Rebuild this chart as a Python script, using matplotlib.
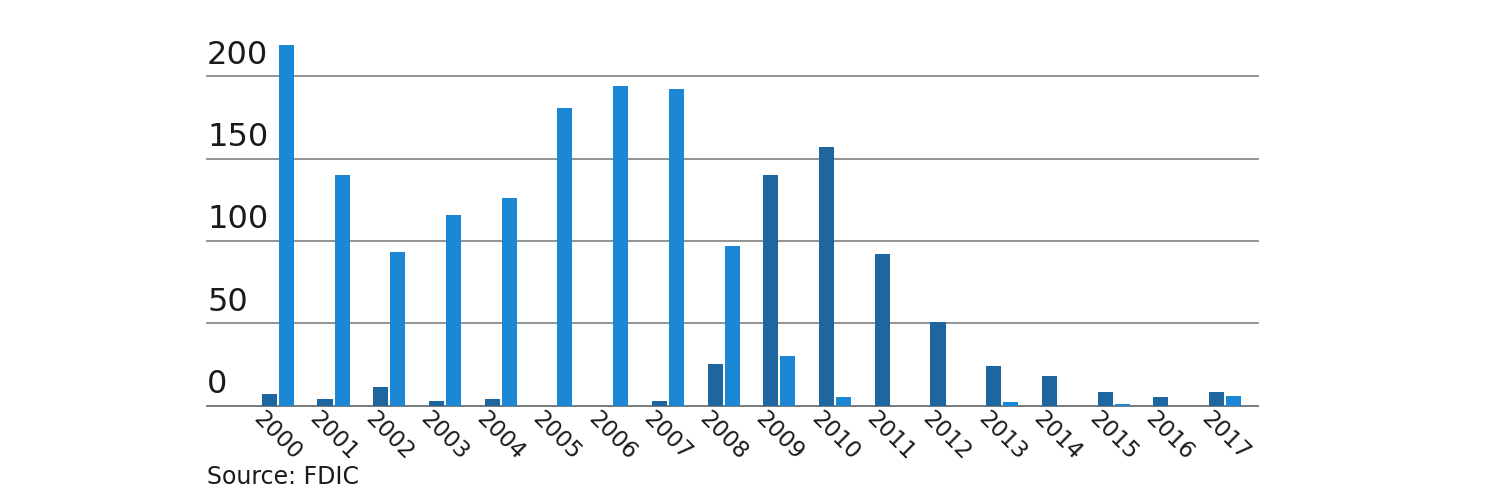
import matplotlib
matplotlib.use("Agg")
import matplotlib.pyplot as plt
import numpy as np

years = [str(y) for y in range(2000, 2018)]
failures = [7, 4, 11, 3, 4, 0, 0, 3, 25, 140, 157, 92, 51, 24, 18, 8, 5, 8]
new_charters = [219, 140, 93, 116, 126, 181, 194, 192, 97, 30, 5, 0, 0, 2, 0, 1, 0, 6]
yticks = [0, 50, 100, 150, 200]
source_text = "Source: FDIC"

plt.rcParams['font.family'] = ['DejaVu Sans']

fig = plt.figure(figsize=(15, 5), dpi=100)
ax = fig.add_axes([0.138, 0.189, 0.7007, 0.731])

x = np.arange(len(years))
w = 0.27
off = 0.153
ax.bar(x - off, failures, width=w, color="#1d669f", zorder=3)
ax.bar(x + off, new_charters, width=w, color="#1c87d5", zorder=3)

ax.set_xlim(-1.27, 17.59)
ax.set_ylim(0, 222)

for v in yticks:
    ax.axhline(v, color="#6e6e6e" if v == 0 else "#8a8a8a", lw=1.3, zorder=2, clip_on=False)
    ax.annotate(str(v), xy=(0, v), xycoords=("axes fraction", "data"),
                xytext=(0, 4), textcoords="offset points",
                ha="left", va="bottom", fontsize=23, color="#1a1a1a")

for s in ax.spines.values():
    s.set_visible(False)
ax.set_yticks([])
ax.set_xticks(x)
ax.set_xticklabels(years, rotation=-45, ha="center", va="top", fontsize=16.5, color="#1a1a1a")
ax.tick_params(axis="x", length=0, pad=1)

fig.text(0.138, 0.032, source_text, ha="left", va="baseline", fontsize=17, color="#1a1a1a")

fig.savefig("out.png", dpi=100)
